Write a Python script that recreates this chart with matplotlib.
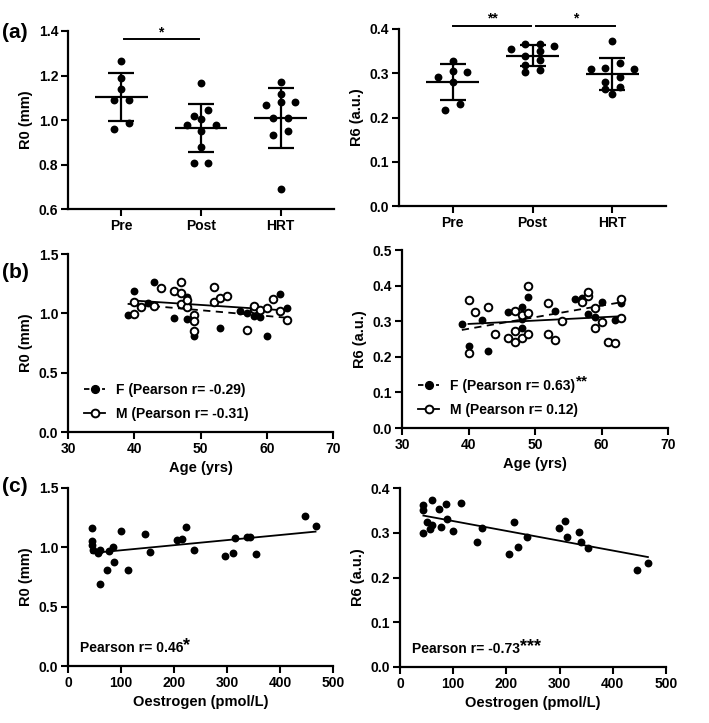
import numpy as np
import matplotlib
matplotlib.use("Agg")
from matplotlib import pyplot as plt
from matplotlib.lines import Line2D

plt.rcParams['font.family'] = ['Liberation Sans', 'DejaVu Sans']
plt.rcParams['font.weight'] = 'bold'
plt.rcParams['axes.labelweight'] = 'bold'

# ---- (a) group data ----
groups = ['Pre', 'Post', 'HRT']
pre_r0 = [1.265, 1.189, 1.139, 1.09, 1.09, 0.987, 0.96]
post_r0 = [1.166, 1.045, 1.018, 1.005, 0.978, 0.978, 0.952, 0.88, 0.808, 0.808]
hrt_r0 = [1.172, 1.115, 1.082, 1.082, 1.066, 1.008, 1.008, 0.952, 0.934, 0.689]
pre_r6 = [0.327, 0.306, 0.302, 0.292, 0.281, 0.231, 0.216]
post_r6 = [0.367, 0.366, 0.362, 0.354, 0.351, 0.34, 0.330, 0.319, 0.307, 0.302]
hrt_r6 = [0.374, 0.324, 0.312, 0.310, 0.310, 0.291, 0.281, 0.268, 0.264, 0.252]

# ---- (b) age data ----
age_f = [43, 40, 48, 42, 48, 39, 46, 62, 63, 56, 57, 58, 59, 48, 53, 49, 60]
r0_f = [1.265, 1.189, 1.139, 1.09, 1.09, 0.987, 0.96, 1.166, 1.045, 1.018, 1.005, 0.978, 0.965, 0.952, 0.88, 0.808, 0.808]
r6_f = [0.216, 0.231, 0.306, 0.302, 0.281, 0.292, 0.327, 0.302, 0.351, 0.362, 0.366, 0.319, 0.312, 0.34, 0.330, 0.367, 0.354]

age_m_r0 = [40, 40, 41, 43, 44, 46, 47, 47, 47, 48, 48, 49, 49, 49, 52, 52, 53, 54, 57, 58, 58, 59, 60, 61, 62, 63]
r0_m = [0.994, 1.093, 1.056, 1.061, 1.216, 1.188, 1.266, 1.168, 1.076, 1.05, 1.11, 0.986, 0.935, 0.853,
        1.093, 1.219, 1.13, 1.146, 0.86, 1.04, 1.06, 1.03, 1.042, 1.118, 1.02, 0.94]
age_m_r6 = [40, 40, 41, 43, 44, 46, 47, 47, 47, 48, 48, 49, 49, 49, 52, 52, 53, 54, 57, 58, 58, 59, 59,
            60, 61, 62, 63, 63]
r6_m = [0.36, 0.21, 0.326, 0.341, 0.263, 0.254, 0.33, 0.272, 0.242, 0.318, 0.254, 0.323, 0.265, 0.40,
        0.35, 0.265, 0.246, 0.30, 0.355, 0.37, 0.381, 0.336, 0.281, 0.298, 0.242, 0.24, 0.362, 0.31]

# ---- (c) oestrogen data ----
oes_r0 = [44.7, 44.7, 44.7, 47.7, 57, 60, 78, 85, 87, 73, 60, 100, 114, 145, 155, 205, 216, 223, 238,
          297, 312, 315, 337, 343, 354, 447, 467]
r0_c = [1.162, 1.05, 1.022, 0.98, 0.952, 0.975, 0.967, 1.0, 0.875, 0.807, 0.689, 1.134, 0.807, 1.11, 0.96,
        1.059, 1.07, 1.17, 0.98, 0.93, 0.955, 1.08, 1.087, 1.087, 0.945, 1.26, 1.18]
oes_r6 = [44, 44, 44, 50, 56, 61, 61, 73, 77, 86, 88, 100, 114, 145, 154, 205, 215, 222, 238, 298, 310,
          314, 336, 341, 353, 446, 466]
r6_c = [0.361, 0.350, 0.300, 0.325, 0.308, 0.318, 0.373, 0.353, 0.312, 0.364, 0.330, 0.305, 0.366, 0.28,
        0.31, 0.252, 0.323, 0.268, 0.291, 0.31, 0.327, 0.291, 0.301, 0.28, 0.265, 0.217, 0.232]

W, H = 709, 723
fig = plt.figure(figsize=(W / 100, H / 100), dpi=100)


def box(x0, y0, x1, y1):
    # pixel box (top-left origin) -> figure fraction
    return [x0 / W, 1 - y1 / H, (x1 - x0) / W, (y1 - y0) / H]


def style(ax):
    for s in ['top', 'right']:
        ax.spines[s].set_visible(False)
    for s in ['left', 'bottom']:
        ax.spines[s].set_linewidth(1.6)
    ax.tick_params(width=1.5, length=5, labelsize=10, pad=2)


def add_stars(ax, txt, stars, size=12):
    # superscript-like stars glued to the end of a text artist
    ax.annotate(stars, xy=(1.0, 1.3), xycoords=txt, ha='left', va='top', zorder=10,
                fontsize=size, fontweight='bold', annotation_clip=False)


def row_offsets(vals, ax, row_h=7.0, step=14.5):
    # arrange points of one column in centred rows (scatter dot plot)
    ylo, yhi = ax.get_ylim()
    xlo, xhi = ax.get_xlim()
    bb = ax.get_window_extent()
    ppy = bb.height / (yhi - ylo)
    ppx = bb.width / (xhi - xlo)
    vals = np.asarray(vals)
    order = np.argsort(-vals)
    offs = np.zeros(len(vals))
    rows = []
    for i in order:
        if rows and (vals[rows[-1][0]] - vals[i]) * ppy < row_h:
            rows[-1].append(i)
        else:
            rows.append([i])
    for r in rows:
        n = len(r)
        pos = np.arange(n) - (n - 1) / 2
        pos = sorted(pos, key=lambda p: (abs(p), -p))
        for i, p in zip(r, pos):
            offs[i] = p * step / ppx
    return offs


def dotplot(ax, data, ylim, yticks, ylabel):
    ax.set_xlim(0.33, 3.67)
    ax.set_ylim(*ylim)
    for k, vals in enumerate(data):
        x = k + 1
        offs = row_offsets(vals, ax)
        ax.scatter(x + offs, vals, s=32, color='black', zorder=3, linewidths=0)
        m = np.mean(vals)
        sd = np.std(vals, ddof=1)
        ax.hlines(m, x - 0.33, x + 0.33, color='black', lw=1.6, zorder=4)
        ax.errorbar(x, m, yerr=sd, color='black', elinewidth=1.6, capsize=9.7, capthick=1.6, zorder=4)
    ax.set_xticks([1, 2, 3])
    ax.set_xticklabels(groups)
    ax.set_yticks(yticks)
    ax.yaxis.set_major_formatter(matplotlib.ticker.FormatStrFormatter('%.1f'))
    ax.set_ylabel(ylabel, fontsize=10.5)
    style(ax)


def sigbar(ax, x0, x1, y, label):
    ax.plot([x0, x1], [y, y], color='black', lw=1.4, clip_on=False)
    ax.text((x0 + x1) / 2, y, label, ha='center', va='bottom', fontsize=10, clip_on=False)


# (a) left
ax1 = fig.add_axes(box(68, 31, 334, 209))
dotplot(ax1, [pre_r0, post_r0, hrt_r0], (0.6, 1.4), [0.6, 0.8, 1.0, 1.2, 1.4], 'R0 (mm)')
sigbar(ax1, 1.03, 1.97, 1.364, '*')

# (a) right
ax2 = fig.add_axes(box(399, 29, 666, 206))
dotplot(ax2, [pre_r6, post_r6, hrt_r6], (0.0, 0.4), [0.0, 0.1, 0.2, 0.3, 0.4], 'R6 (a.u.)')
sigbar(ax2, 1.01, 1.98, 0.4075, '**')
sigbar(ax2, 2.05, 3.03, 0.4075, '*')


def fitline(ax, x, y, ls):
    x = np.asarray(x, float)
    y = np.asarray(y, float)
    b, a = np.polyfit(x, y, 1)
    xs = np.array([x.min(), x.max()])
    ax.plot(xs, a + b * xs, color='black', lw=1.3, ls=ls, zorder=2)


def agepanel(ax, r_f, age_m, r_m, ylim, yticks, ylabel, labels, stars=None):
    ax.set_xlim(30, 70)
    ax.set_ylim(*ylim)
    fitline(ax, age_f, r_f, (0, (4, 3)))
    fitline(ax, age_m, r_m, '-')
    ax.scatter(age_f, r_f, s=32, color='black', zorder=3, linewidths=0)
    ax.scatter(age_m, r_m, s=30, facecolor='white', edgecolor='black', linewidths=1.4, zorder=3)
    ax.set_xticks([30, 40, 50, 60, 70])
    ax.set_yticks(yticks)
    ax.yaxis.set_major_formatter(matplotlib.ticker.FormatStrFormatter('%.1f'))
    ax.set_xlabel('Age (yrs)', fontsize=10.5)
    ax.set_ylabel(ylabel, fontsize=10.5)
    h_f = Line2D([], [], color='black', ls=(0, (3, 2)), lw=1.3, marker='o', ms=5.6, mfc='black')
    h_m = Line2D([], [], color='black', ls='-', lw=1.3, marker='o', ms=5.6, mfc='white', mew=1.4)
    leg = ax.legend([h_f, h_m], labels, loc='lower left', bbox_to_anchor=(0.015, -0.01), frameon=False,
                    handlelength=1.5, handletextpad=0.8, labelspacing=0.75,
                    prop={'weight': 'bold', 'size': 10})
    leg.set_zorder(5)
    if stars:
        add_stars(ax, leg.get_texts()[0], stars, size=11)
    style(ax)


# (b) left
ax3 = fig.add_axes(box(68, 254, 333, 432))
agepanel(ax3, r0_f, age_m_r0, r0_m, (0, 1.5), [0.0, 0.5, 1.0, 1.5], 'R0 (mm)',
         ['F (Pearson r= -0.29)', 'M (Pearson r= -0.31)'])

# (b) right
ax4 = fig.add_axes(box(402, 250, 668, 428))
agepanel(ax4, r6_f, age_m_r6, r6_m, (0, 0.5), [0.0, 0.1, 0.2, 0.3, 0.4, 0.5], 'R6 (a.u.)',
         ['F (Pearson r= 0.63)', 'M (Pearson r= 0.12)'], stars='**')


def oespanel(ax, x, y, ylim, yticks, ylabel, label, stars):
    ax.set_xlim(0, 500)
    ax.set_ylim(*ylim)
    fitline(ax, x, y, '-')
    ax.scatter(x, y, s=32, color='black', zorder=3, linewidths=0)
    ax.set_xticks([0, 100, 200, 300, 400, 500])
    ax.set_yticks(yticks)
    ax.yaxis.set_major_formatter(matplotlib.ticker.FormatStrFormatter('%.1f'))
    ax.set_xlabel('Oestrogen (pmol/L)', fontsize=10.5)
    ax.set_ylabel(ylabel, fontsize=10.5)
    t = ax.text(0.045, 0.1, label, transform=ax.transAxes, fontsize=10, ha='left', va='center')
    add_stars(ax, t, stars, size=13)
    style(ax)


# (c) left
ax5 = fig.add_axes(box(68, 488, 333, 666))
oespanel(ax5, oes_r0, r0_c, (0, 1.5), [0.0, 0.5, 1.0, 1.5], 'R0 (mm)', 'Pearson r= 0.46', '*')

# (c) right
ax6 = fig.add_axes(box(400, 488, 666, 667))
oespanel(ax6, oes_r6, r6_c, (0, 0.4), [0.0, 0.1, 0.2, 0.3, 0.4], 'R6 (a.u.)', 'Pearson r= -0.73', '***')

# panel letters
for lab, y in [('(a)', 33), ('(b)', 273), ('(c)', 487)]:
    fig.text(2 / W, 1 - y / H, lab, fontsize=15, fontweight='bold', ha='left', va='center')

fig.savefig('out.png', dpi=100)
